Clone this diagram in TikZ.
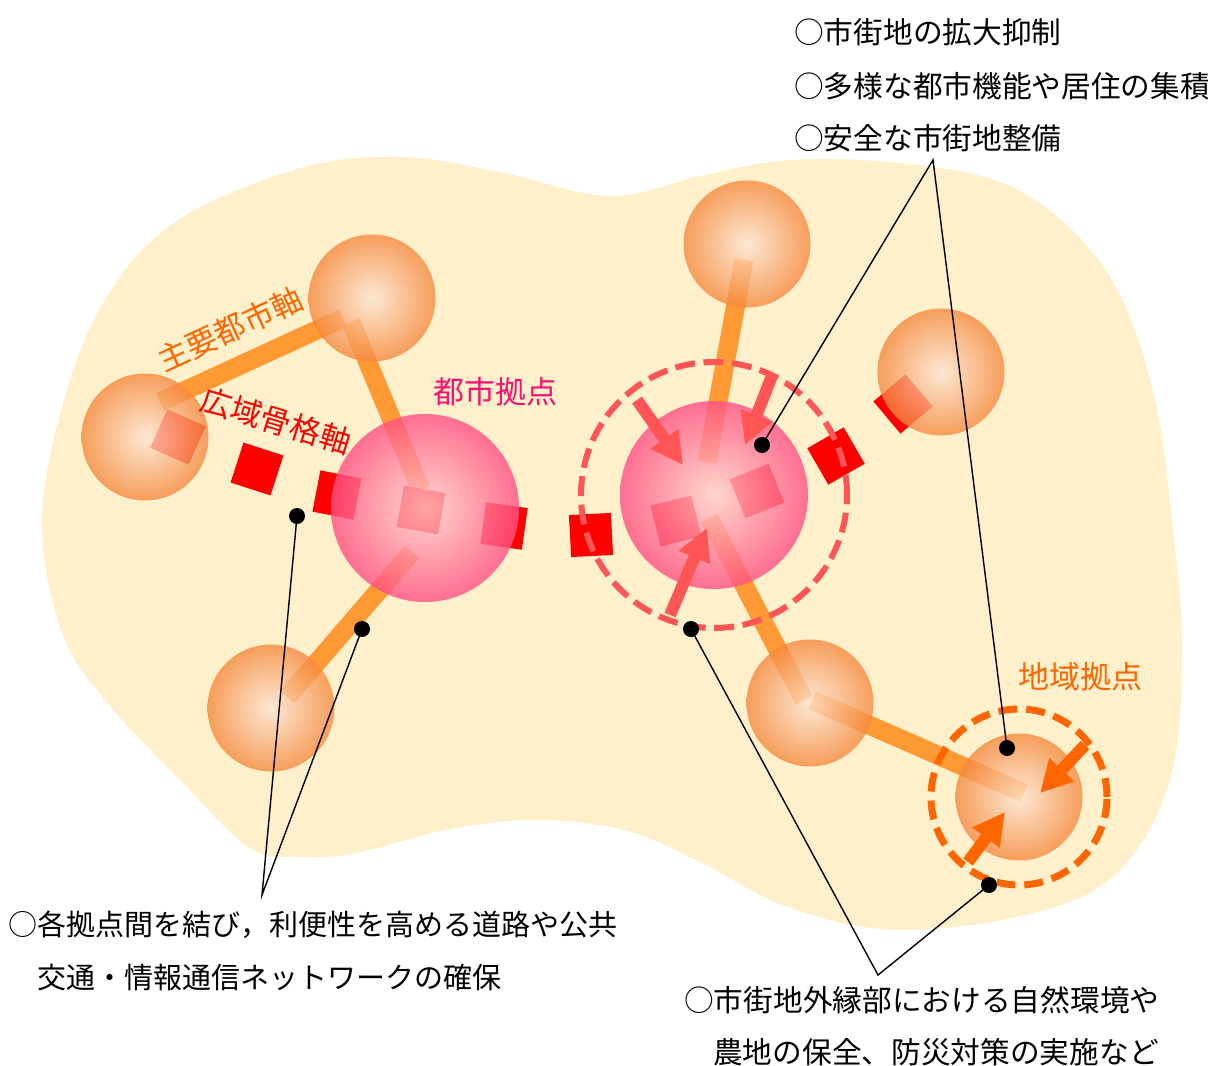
\documentclass[tikz,border=0pt]{standalone}
\usepackage{fontspec}
\newfontfamily\jp{Noto Sans CJK JP}
\usetikzlibrary{arrows.meta}

\definecolor{blobfill}{HTML}{FFF0CC}
\definecolor{roadorange}{HTML}{FF9933}
\definecolor{axisred}{HTML}{FF0000}
\definecolor{hubring}{HTML}{FF5555}
\definecolor{localorange}{HTML}{FF6600}
\definecolor{townedge}{HTML}{F5873C}
\definecolor{townlight}{HTML}{FCE6D6}
\definecolor{hubedge}{HTML}{FF4F82}
\definecolor{hublight}{HTML}{FFCFCC}
\definecolor{hubtext}{HTML}{FF0F6F}

\begin{document}
\begin{tikzpicture}[x=1pt,y=-1pt]
\tikzstyle{road}=[draw=roadorange,line width=19pt]
\tikzstyle{axissq}=[fill=axisred,minimum size=42pt,inner sep=0pt]
\tikzstyle{town}=[circle,minimum size=127pt,inner sep=0pt,inner color=townlight,outer color=townedge,opacity=0.78]
\tikzstyle{hub}=[circle,minimum size=188pt,inner sep=0pt,inner color=hublight,outer color=hubedge,opacity=0.8]
\tikzstyle{calldot}=[circle,fill=black,minimum size=16pt,inner sep=0pt]
\tikzstyle{callout}=[black,line width=1.4pt]
\tikzstyle{inarrow}=[line width=12pt,-{Triangle[length=32pt,width=32pt]}]
\tikzstyle{note}=[anchor=west,inner sep=0pt,font=\jp\fontsize{29}{29}\selectfont]
\tikzstyle{wide note}=[note,font=\jp\fontsize{29.7}{29.7}\selectfont]
\tikzstyle{maplabel}=[inner sep=0pt,font=\jp\fontsize{31}{31}\selectfont]

\useasboundingbox (0,0) rectangle (1208,1066);

% city area
\fill[blobfill] plot[smooth cycle,tension=0.6] coordinates {(42,520) (64,400) (105,300) (175,222)
  (300,168) (402,157) (500,172) (610,196) (700,176) (790,160) (900,163) (1000,182) (1070,228)
  (1121,297) (1155,400) (1172,520) (1182,650) (1170,780) (1117,873) (1033,913) (900,930)
  (790,908) (700,862) (624,830) (535,820) (446,830) (357,853) (303,857) (250,848) (180,780)
  (105,700) (61,630)};

% main city axes
\draw[road] (160,402) -- (343,318);
\draw[road] (351,322) -- (421,490);
\draw[road] (412,552) -- (287,697);
\draw[road] (744,260) -- (707,462);
\draw[road] (709,518) -- (804,700);
\draw[road] (812,700) -- (1024,793);

% wide-area backbone axis
\foreach \x/\y/\r [count=\i] in {178/437/-24,257/469/-18,337/495/-11,421/510/-10,504/526/-8,
  591/535/3,676/521/14,757/491/22,836/456/30,903/404/40}
  \node[axissq,rotate=\r] (sq\i) at (\x,\y) {};

% towns and hubs
\node[town] (townA) at (145,437) {};
\node[town] (townB) at (372,298) {};
\node[town] (townC) at (271,708) {};
\node[town] (townD) at (747,244) {};
\node[town] (townE) at (941,372) {};
\node[town] (townF) at (810,703) {};
\node[town] (localG) at (1019,797) {};
\node[hub] (hubL) at (425,508) {};
\node[hub] (hubR) at (714,495) {};

\draw[hubring,line width=6pt,dash pattern=on 20pt off 8.5pt] (hubR) circle[radius=133pt];
\draw[localorange,line width=7pt,dash pattern=on 19pt off 9pt] (localG) circle[radius=88pt];

% concentration arrows
\draw[inarrow,hubring] (637,400) -- (683,465);
\draw[inarrow,hubring] (773,373) -- (745,445);
\draw[inarrow,hubring] (670,615) -- (707,528);
\draw[inarrow,localorange] (1085,745) -- (1040,793);
\draw[inarrow,localorange] (968,862) -- (1005,812);

% callouts
\coordinate (netTip) at (262,895);
\coordinate (townTip) at (933,160);
\coordinate (edgeTip) at (878,975);
\node[calldot] (d1) at (297,516) {};
\node[calldot] (d2) at (362,629) {};
\node[calldot] (d3) at (762,445) {};
\node[calldot] (d4) at (1007,748) {};
\node[calldot] (d5) at (691,629) {};
\node[calldot] (d6) at (989,885) {};
\draw[callout] (d1.center) -- (netTip) -- (d2.center);
\draw[callout] (d3.center) -- (townTip) -- (d4.center);
\draw[callout] (d5.center) -- (edgeTip) -- (d6.center);

% labels
\node[maplabel,text=localorange,rotate=25] (mainAxis) at (230,329) {主要都市軸};
\node[maplabel,text=axisred,rotate=-17] (wideAxis) at (276,421) {広域骨格軸};
\node[maplabel,text=hubtext] (hubLabel) at (495,392) {都市拠点};
\node[maplabel,text=localorange] (localLabel) at (1080,677) {地域拠点};

\node[wide note] (n1) at (794,32) {○市街地の拡大抑制};
\node[wide note] (n2) at (794,86) {○多様な都市機能や居住の集積};
\node[wide note] (n3) at (794,138) {○安全な市街地整備};
\node[note] (n4) at (8,925) {○各拠点間を結び，利便性を高める道路や公共};
\node[note] (n5) at (37,978) {交通・情報通信ネットワークの確保};
\node[wide note] (n6) at (684,1000) {○市街地外縁部における自然環境や};
\node[wide note] (n7) at (713,1052) {農地の保全、防災対策の実施など};

\end{tikzpicture}
\end{document}
